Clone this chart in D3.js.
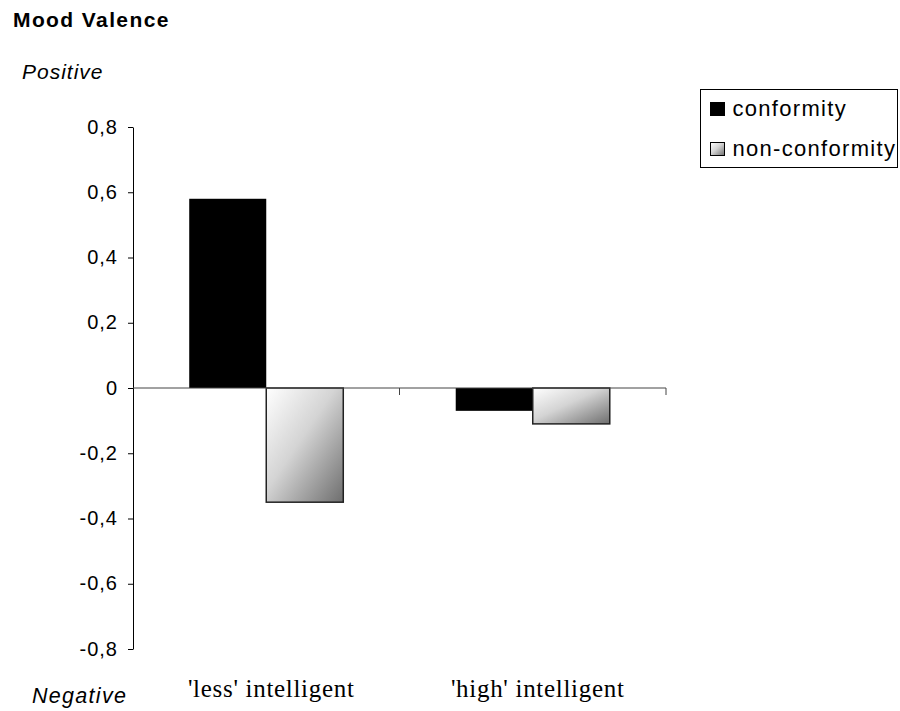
<!DOCTYPE html>
<html>
<head>
<meta charset="utf-8">
<title>Mood Valence</title>
<script src="https://d3js.org/d3.v7.min.js"></script>
<style>
    body { margin: 0; background: #fff; }
    svg { display: block; }
</style>
</head>
<body>
<div id="chart"></div>
<script>
// data
const categories = ["'less' intelligent", "'high' intelligent"];
const seriesNames = ["conformity", "non-conformity"];
const conformity = [0.58, -0.07];
const nonConformity = [-0.35, -0.11];
const yTicks = [-0.8, -0.6, -0.4, -0.2, 0, 0.2, 0.4, 0.6, 0.8];

const width = 900, height = 711;
const sans = "Liberation Sans, Arial, sans-serif";
const svg = d3.select("#chart").append("svg")
    .attr("width", width)
    .attr("height", height);

// gradient for non-conformity bars
const defs = svg.append("defs");
const grad = defs.append("linearGradient")
    .attr("id", "grey-grad")
    .attr("x1", "0%").attr("y1", "0%")
    .attr("x2", "100%").attr("y2", "100%");
grad.append("stop").attr("offset", "0%").attr("stop-color", "#ffffff");
grad.append("stop").attr("offset", "45%").attr("stop-color", "#d4d4d4");
grad.append("stop").attr("offset", "100%").attr("stop-color", "#6e6e6e");

// scales
const y = d3.scaleLinear().domain([-0.8, 0.8]).range([649, 127]);
const x0 = d3.scaleBand().domain(categories).range([133, 666]).paddingInner(0).paddingOuter(0);
const x1 = d3.scaleBand().domain(seriesNames).range([0, x0.bandwidth()]).paddingOuter(0.73).paddingInner(0);

const locale = d3.formatLocale({ decimal: ",", thousands: ".", grouping: [3], currency: ["", ""], minus: "-" });
const fmt = v => v === 0 ? "0" : locale.format(".1f")(v);

// y axis
const yAxis = svg.append("g")
    .attr("transform", "translate(133,0)")
    .call(d3.axisLeft(y).tickValues(yTicks).tickFormat(fmt).tickSize(5).tickSizeOuter(0).tickPadding(10));
yAxis.select(".domain").attr("stroke", "#000");
yAxis.selectAll(".tick line").attr("stroke", "#000");
yAxis.selectAll("text")
    .attr("font-family", sans)
    .attr("font-size", 20)
    .attr("letter-spacing", 1)
    .attr("dy", "0.3em")
    .attr("fill", "#000");

// bars
const rows = categories.map((c, i) => ({
    cat: c,
    vals: [
        { key: "conformity", v: conformity[i] },
        { key: "non-conformity", v: nonConformity[i] }
    ]
}));

const groups = svg.selectAll(".grp")
    .data(rows)
    .enter().append("g")
    .attr("transform", d => `translate(${x0(d.cat)},0)`);

groups.selectAll("rect")
    .data(d => d.vals)
    .enter().append("rect")
    .attr("x", d => x1(d.key))
    .attr("width", x1.bandwidth())
    .attr("y", d => y(Math.max(0, d.v)))
    .attr("height", d => Math.abs(y(d.v) - y(0)))
    .attr("fill", d => d.key === "conformity" ? "#000" : "url(#grey-grad)")
    .attr("stroke", d => d.key === "conformity" ? "none" : "#222")
    .attr("stroke-width", 1.5);

// x axis (zero line) with ticks between categories
const xAxisTicks = categories.map(c => x0(c) + x0.bandwidth());
const xAxis = svg.append("g");
xAxis.append("line")
    .attr("x1", x0.range()[0]).attr("x2", x0.range()[1])
    .attr("y1", y(0)).attr("y2", y(0))
    .attr("stroke", "#444").attr("stroke-width", 1);
xAxis.selectAll(".xt")
    .data(xAxisTicks)
    .enter().append("line")
    .attr("x1", d => d).attr("x2", d => d)
    .attr("y1", y(0)).attr("y2", y(0) + 7)
    .attr("stroke", "#444");

// category labels
svg.selectAll(".cat")
    .data(categories)
    .enter().append("text")
    .attr("x", d => x0(d) + x0.bandwidth() / 2 + 5)
    .attr("y", 697)
    .attr("text-anchor", "middle")
    .attr("font-family", "Liberation Serif, Times New Roman, serif")
    .attr("font-size", 25)
    .attr("letter-spacing", 0.7)
    .text(d => d);

// titles
svg.append("text")
    .attr("x", 13).attr("y", 27)
    .attr("font-family", sans)
    .attr("font-size", 21).attr("font-weight", "bold")
    .attr("letter-spacing", 1.4)
    .text("Mood Valence");
svg.append("text")
    .attr("x", 22).attr("y", 79)
    .attr("font-family", sans)
    .attr("font-size", 21).attr("font-style", "italic")
    .attr("letter-spacing", 1)
    .text("Positive");
svg.append("text")
    .attr("x", 32).attr("y", 703)
    .attr("font-family", sans)
    .attr("font-size", 21.5).attr("font-style", "italic")
    .attr("letter-spacing", 1.3)
    .text("Negative");

// legend
const legend = svg.append("g").attr("transform", "translate(700.5,89.5)");
legend.append("rect")
    .attr("width", 197).attr("height", 78)
    .attr("fill", "#fff").attr("stroke", "#000").attr("stroke-width", 1);
const items = legend.selectAll(".item")
    .data(seriesNames)
    .enter().append("g")
    .attr("transform", (d, i) => `translate(10,${26 + i * 40})`);
items.append("rect")
    .attr("x", 0).attr("y", -13)
    .attr("width", 14).attr("height", 13)
    .attr("fill", d => d === "conformity" ? "#000" : "url(#grey-grad)")
    .attr("stroke", "#000").attr("stroke-width", 1);
items.append("text")
    .attr("x", 22).attr("y", 0)
    .attr("font-family", sans)
    .attr("font-size", 22)
    .attr("letter-spacing", 1.3)
    .text(d => d);
</script>
</body>
</html>
